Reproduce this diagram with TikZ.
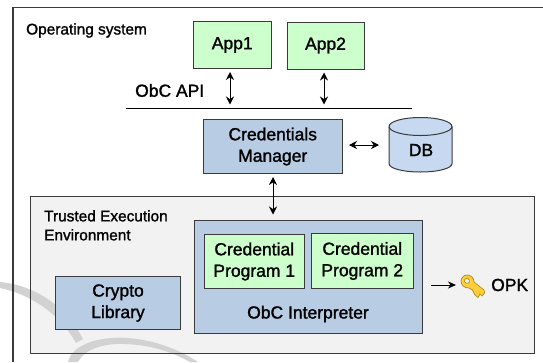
\documentclass[tikz,border=0pt]{standalone}
\usepackage{fontspec}
\setmainfont{Liberation Sans}
\newfontfamily\lab[FakeBold=1.4]{Liberation Sans}
\usetikzlibrary{arrows.meta}
\definecolor{appgreen}{HTML}{CCFFCC}
\definecolor{mgrblue}{HTML}{B8CCE4}
\definecolor{dbblue}{HTML}{C6D9F1}
\definecolor{teegray}{HTML}{F2F2F2}
\definecolor{edge}{HTML}{3A3A3A}
\definecolor{wmcol}{HTML}{D2D2D2}
\definecolor{keygold}{HTML}{FFCE3A}
\definecolor{keyedge}{HTML}{B08A1A}
\tikzset{
  x=1pt,y=-1pt,
  block/.style={draw=edge,line width=1pt,inner sep=0pt,align=center,font=\lab\fontsize{17.5}{21.5}\selectfont,text=black},
  greenbox/.style={block,fill=appgreen},
  bluebox/.style={block,fill=mgrblue},
  note/.style={inner sep=0pt,align=left,font=\lab\fontsize{15.4}{19}\selectfont,text=black},
  biglabel/.style={inner sep=0pt,font=\lab\fontsize{17.5}{21}\selectfont,text=black},
  biarrow/.style={line width=0.9pt,{Stealth[length=8pt,width=8pt]}-{Stealth[length=8pt,width=8pt]}},
  oneway/.style={line width=0.9pt,-{Stealth[length=8pt,width=7pt]}},
  wmark/.style={fill=wmcol},
}
\newcommand{\boxat}[7]{\node[#1,minimum width=#5-#3,minimum height=#6-#4,anchor=north west] (#2) at (#3,#4) {#7};}
\begin{document}
\begin{tikzpicture}
\useasboundingbox (0,0) rectangle (543,362);
\fill[white] (0,0) rectangle (543,362);
% boxes
\node[note,anchor=west] (os) at (26,30.5) {Operating system};
\boxat{greenbox}{app1}{192.5}{21}{271}{68}{App1}
\boxat{greenbox}{app2}{286.5}{21.5}{363.5}{68.5}{App2}
\node[biglabel,anchor=west] (api) at (135,90.5) {ObC API};
\coordinate (apiL) at (126,108.5);
\coordinate (apiR) at (412,108.5);
\coordinate (api1) at (230,108.5);
\coordinate (api2) at (324,108.5);
\draw[black,line width=1pt] (apiL) -- (apiR);
\boxat{bluebox}{cm}{202.5}{119}{342}{173}{Credentials\\Manager}
% DB cylinder
\path[fill=dbblue,draw=edge,line width=1pt] (389,126.5) -- (389,163.5) .. controls (389,168.5) and (403,172) .. (420.5,172) .. controls (438,172) and (452,168.5) .. (452,163.5) -- (452,126.5) .. controls (452,121.5) and (438,117.5) .. (420.5,117.5) .. controls (403,117.5) and (389,121.5) .. (389,126.5) -- cycle;
\draw[edge,line width=1pt] (389,126.5) .. controls (389,131.5) and (403,135.5) .. (420.5,135.5) .. controls (438,135.5) and (452,131.5) .. (452,126.5);
\node[biglabel] (db) at (421,150) {DB};
\coordinate (dbW) at (389,145);
% TEE fill
\fill[teegray] (29.5,196) rectangle (534,352.5);
% faint watermark bands, under every outline
\fill[wmark] (0,282) .. controls (32,285) and (64,303) .. (83,339) -- (76,343) .. controls (60,314) and (30,294) .. (0,288) -- cycle;
\fill[wmark] (68,362) .. controls (72,344) and (100,336) .. (128,338) .. controls (155,340) and (180,350) .. (198,362) -- (190,362) .. controls (170,351) and (150,345) .. (125,344) .. controls (105,343) and (84,349) .. (78,362) -- cycle;
% frames
\draw[edge,line width=1.1pt] (13,362) -- (13,7.5) -- (543,7.5);
\boxat{block}{tee}{29.5}{196}{534}{352.5}{}
\node[note,anchor=north west] (teel) at (44,210) {Trusted Execution\\Environment};
\boxat{bluebox}{crypto}{55}{276}{180}{329}{Crypto\\Library}
\boxat{bluebox}{interp}{193.5}{219.5}{422}{333}{}
\node[biglabel] (il) at (308,314) {ObC Interpreter};
\boxat{greenbox}{cp1}{203.5}{234}{304}{288}{Credential\\Program 1}
\boxat{greenbox}{cp2}{311}{233}{412.5}{288}{Credential\\Program 2}
% connectors
\draw[biarrow,shorten <=3pt,shorten >=4pt] (app1.south -| api1) -- (api1);
\draw[biarrow,shorten <=3pt,shorten >=4pt] (app2.south -| api2) -- (api2);
\draw[biarrow,shorten <=6pt,shorten >=10pt] (cm.east |- dbW) -- (dbW);
\draw[biarrow,shorten <=3pt,shorten >=5pt] (cm.south -| 273,0) -- (interp.north -| 273,0);
% key
\begin{scope}[shift={(461,275)}]
  \fill[draw=keyedge,fill=keygold,line width=0.7pt,even odd rule]
    (6,0) .. controls (10,0) and (13,3) .. (13,7) -- (23,15) -- (23.5,18) -- (21,21) -- (19,19) -- (17,22.5) -- (14,20) -- (11.5,15) -- (8,13) .. controls (3,13) and (0,10) .. (0,6) .. controls (0,3) and (3,0) .. (6,0) -- cycle
    (6.5,3) .. controls (4,3) and (3,5) .. (3.5,6.5) .. controls (4,8) and (6,9) .. (8,8) .. controls (9,6.5) and (8.5,4) .. (6.5,3) -- cycle;
\end{scope}
\coordinate (keyW) at (460,285);
\node[biglabel,anchor=west] (opk) at (491,285) {OPK};
\draw[oneway,shorten <=8pt,shorten >=4pt] (interp.east |- keyW) -- (keyW);
\end{tikzpicture}
\end{document}
